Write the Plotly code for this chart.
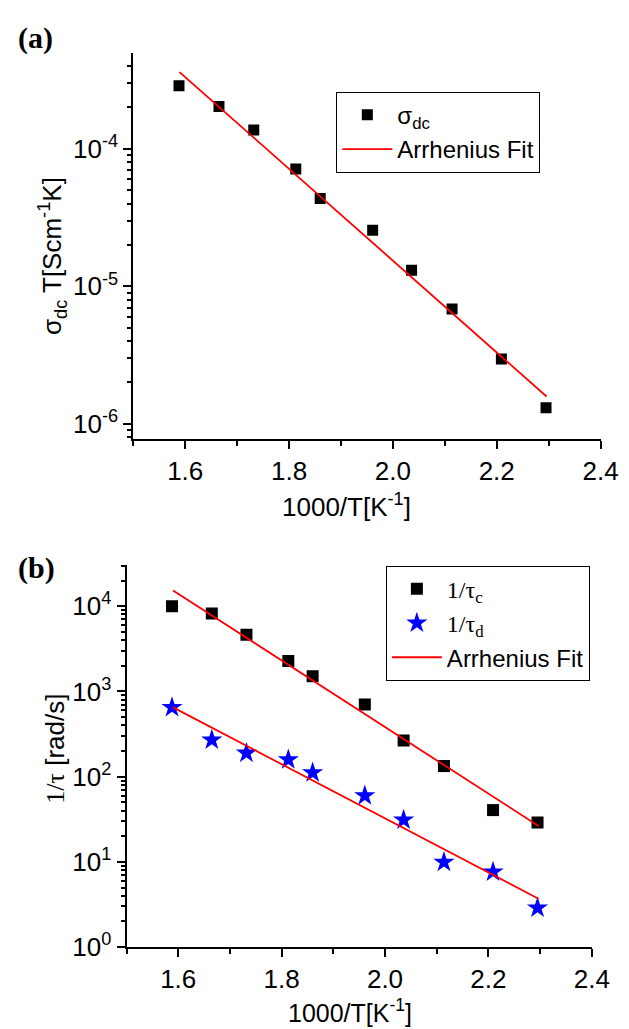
import plotly.graph_objects as go

# ---------------- data ----------------
x_invT = [1.588, 1.665, 1.732, 1.813, 1.860, 1.961, 2.036, 2.114, 2.209, 2.295]

sigma_dc_T = [2.88e-4, 2.03e-4, 1.37e-4, 7.15e-5, 4.35e-5, 2.56e-5, 1.31e-5, 6.84e-6, 2.96e-6, 1.31e-6]
fit_a_x = [1.589, 2.296]
fit_a_y = [3.62e-4, 1.58e-6]

inv_tau_c = [1.0e4, 8.2e3, 4.63e3, 2.27e3, 1.51e3, 703, 265, 133, 40.5, 28.9]
inv_tau_d = [650, 270, 189, 158, 111, 59.7, 31, 9.9, 7.6, 2.88]
fit_c_x = [1.590, 2.297]
fit_c_y = [1.53e4, 26.4]
fit_d_x = [1.590, 2.297]
fit_d_y = [650, 3.69]

x_tickvals = [1.6, 1.8, 2.0, 2.2, 2.4]
x_ticktext = ["1.6", "1.8", "2.0", "2.2", "2.4"]
x_minorvals = [1.5, 1.7, 1.9, 2.1, 2.3]
ya_tickvals = [1e-6, 1e-5, 1e-4]
ya_ticktext = ["10<sup>-6</sup>", "10<sup>-5</sup>", "10<sup>-4</sup>"]
yb_tickvals = [1, 10, 100, 1000, 10000]
yb_ticktext = ["10<sup>0</sup>", "10<sup>1</sup>", "10<sup>2</sup>", "10<sup>3</sup>", "10<sup>4</sup>"]

W, H = 629, 1029
SANS = "Liberation Sans, Arial, sans-serif"
SERIF = "Liberation Serif, Times New Roman, serif"


def px(x):
    return x / W


def py(y):
    return 1 - y / H


def log_minor(lo, hi):
    return [m * 10 ** e for e in range(lo, hi) for m in range(2, 10)]


fig = go.Figure()

# panel (a)
fig.add_trace(go.Scatter(x=x_invT, y=sigma_dc_T, mode="markers", name="σ<sub>dc</sub>",
                         marker=dict(symbol="square", size=11, color="black"),
                         xaxis="x", yaxis="y", legend="legend"))
fig.add_trace(go.Scatter(x=fit_a_x, y=fit_a_y, mode="lines", name="Arrhenius Fit",
                         line=dict(color="#ff0000", width=1.8),
                         xaxis="x", yaxis="y", legend="legend"))

# panel (b)
fig.add_trace(go.Scatter(x=x_invT, y=inv_tau_c, mode="markers",
                         name="<span style='font-family:Liberation Serif'>1/τ<sub>c</sub></span>",
                         marker=dict(symbol="square", size=12, color="black"),
                         xaxis="x2", yaxis="y2", legend="legend2"))
fig.add_trace(go.Scatter(x=x_invT, y=inv_tau_d, mode="markers",
                         name="<span style='font-family:Liberation Serif'>1/τ<sub>d</sub></span>",
                         marker=dict(symbol="star", size=16, color="#0000ff"),
                         xaxis="x2", yaxis="y2", legend="legend2"))
fig.add_trace(go.Scatter(x=fit_c_x, y=fit_c_y, mode="lines", name="Arrhenius Fit",
                         line=dict(color="#ff0000", width=1.8),
                         xaxis="x2", yaxis="y2", legend="legend2"))
fig.add_trace(go.Scatter(x=fit_d_x, y=fit_d_y, mode="lines", name="Arrhenius Fit",
                         line=dict(color="#ff0000", width=1.8), showlegend=False,
                         xaxis="x2", yaxis="y2", legend="legend2"))

axis_common = dict(showline=True, linecolor="black", linewidth=2, mirror=False,
                   ticks="outside", ticklen=8, tickwidth=2, tickcolor="black",
                   showgrid=False, zeroline=False,
                   tickfont=dict(family=SANS, size=26, color="black"))

xaxis_cfg = dict(axis_common, range=[1.5, 2.4], tickmode="array",
                 tickvals=x_tickvals, ticktext=x_ticktext,
                 minor=dict(ticks="outside", ticklen=5, tickwidth=1.5, tickcolor="black",
                            tickmode="array", tickvals=x_minorvals))

fig.update_layout(
    width=W, height=H, margin=dict(l=0, r=0, t=0, b=0),
    paper_bgcolor="white", plot_bgcolor="white",
    xaxis=dict(xaxis_cfg, domain=[px(129), px(610)], anchor="y"),
    yaxis=dict(axis_common, type="log", range=[-6.108, -3.305], domain=[py(437), py(46)],
               anchor="x", tickmode="array", tickvals=ya_tickvals, ticktext=ya_ticktext,
               minor=dict(ticks="outside", ticklen=4, tickwidth=1.5, tickcolor="black",
                          tickmode="array", tickvals=log_minor(-7, -3))),
    xaxis2=dict(xaxis_cfg, domain=[px(122), px(601)], anchor="y2"),
    yaxis2=dict(axis_common, type="log", range=[0, 4.486], domain=[py(953), py(565)],
                anchor="x2", tickmode="array", tickvals=yb_tickvals, ticktext=yb_ticktext,
                minor=dict(ticks="outside", ticklen=4, tickwidth=1.5, tickcolor="black",
                           tickmode="array", tickvals=log_minor(0, 5))),
    legend=dict(x=px(338), y=py(85), xanchor="left", yanchor="top",
                bordercolor="black", borderwidth=1, bgcolor="white",
                font=dict(family=SANS, size=24, color="black"), itemwidth=50),
    legend2=dict(x=px(389), y=py(566), xanchor="left", yanchor="top",
                 bordercolor="black", borderwidth=1, bgcolor="white",
                 font=dict(family=SANS, size=24, color="black"), itemwidth=50),
    showlegend=True,
)

ann = [
    dict(text="<b>(a)</b>", x=px(8), y=py(30), xanchor="left", yanchor="middle",
         font=dict(family=SERIF, size=30, color="black")),
    dict(text="<b>(b)</b>", x=px(8), y=py(568), xanchor="left", yanchor="middle",
         font=dict(family=SERIF, size=30, color="black")),
    dict(text="σ<sub>dc</sub> T[Scm<sup>-1</sup>K]", x=px(46), y=py(252), textangle=-90,
         xanchor="center", yanchor="middle", font=dict(family=SANS, size=26, color="black")),
    dict(text="1000/T[K<sup>-1</sup>]", x=px(348), y=py(505), xanchor="center", yanchor="middle",
         font=dict(family=SANS, size=26, color="black")),
    dict(text="<span style='font-family:Liberation Serif'>1/τ</span> [rad/s]", x=px(48), y=py(752),
         textangle=-90, xanchor="center", yanchor="middle",
         font=dict(family=SANS, size=26, color="black")),
    dict(text="1000/T[K<sup>-1</sup>]", x=px(352), y=py(1018), xanchor="center", yanchor="middle",
         font=dict(family=SANS, size=25, color="black")),
]
for a in ann:
    a.update(xref="paper", yref="paper", showarrow=False)
fig.update_layout(annotations=ann)

fig.write_html("out.html")
